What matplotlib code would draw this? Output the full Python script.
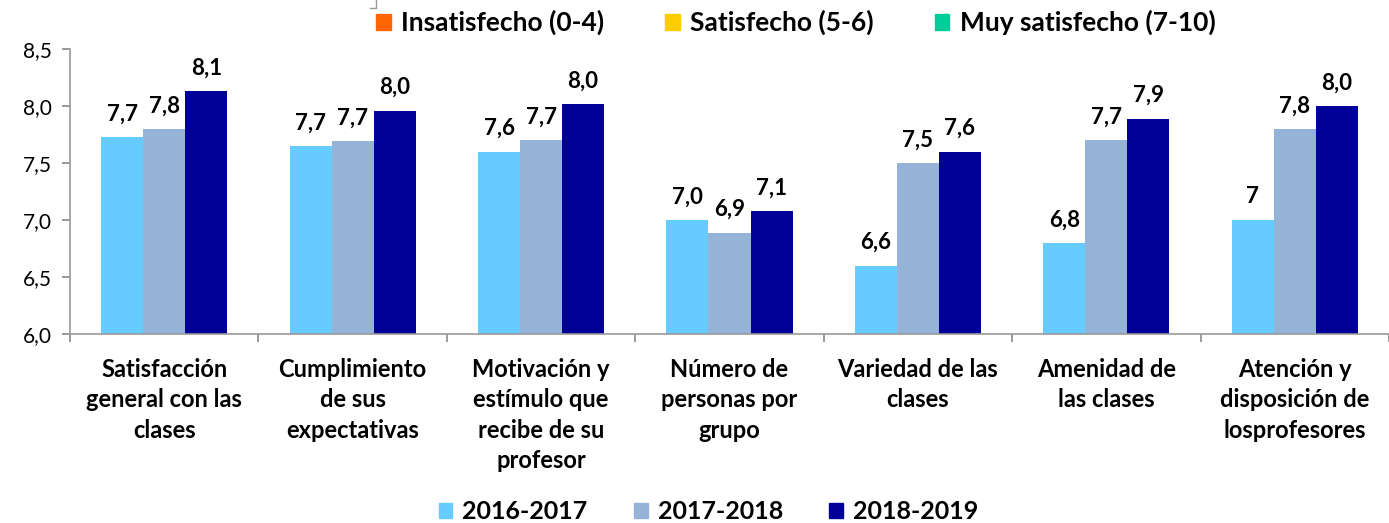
import matplotlib.pyplot as plt
import numpy as np
from matplotlib.patches import Patch
from matplotlib.lines import Line2D

plt.rcParams['font.family'] = ['Lato', 'DejaVu Sans']

categories = ["Satisfacción\ngeneral con las\nclases", "Cumplimiento\nde sus\nexpectativas",
              "Motivación y\nestímulo que\nrecibe de su\nprofesor", "Número de\npersonas por\ngrupo",
              "Variedad de las\nclases", "Amenidad de\nlas clases",
              "Atención y\ndisposición de\nlosprofesores"]
years = ["2016-2017", "2017-2018", "2018-2019"]
v2016 = [7.73, 7.65, 7.60, 7.00, 6.60, 6.80, 7.00]
v2017 = [7.80, 7.69, 7.70, 6.89, 7.50, 7.70, 7.80]
v2018 = [8.13, 7.96, 8.02, 7.08, 7.60, 7.89, 8.00]
lab2016 = ["7,7", "7,7", "7,6", "7,0", "6,6", "6,8", "7"]
lab2017 = ["7,8", "7,7", "7,7", "6,9", "7,5", "7,7", "7,8"]
lab2018 = ["8,1", "8,0", "8,0", "7,1", "7,6", "7,9", "8,0"]
colors = ["#66CCFF", "#95B3D7", "#000099"]

top_names = ["Insatisfecho (0-4)", "Satisfecho (5-6)", "Muy satisfecho (7-10)"]
top_colors = ["#FF6600", "#FFCC00", "#00CC99"]

fig = plt.figure(figsize=(13.89, 5.23), dpi=100)
ax = fig.add_axes([0.0504, 0.3614, 0.9496, 0.5449])

x = np.arange(len(categories))
w = 0.223
for i, (vals, labs) in enumerate([(v2016, lab2016), (v2017, lab2017), (v2018, lab2018)]):
    bars = ax.bar(x + (i - 1) * w, np.array(vals) - 6.0, w, bottom=6.0, color=colors[i],
                  label=years[i])
    for b, t in zip(bars, labs):
        ax.annotate(t, (b.get_x() + b.get_width() / 2, b.get_y() + b.get_height()),
                    xytext=(0, 9), textcoords="offset points", ha="center", va="bottom",
                    fontsize=16, fontweight="bold")

ax.set_ylim(6.0, 8.5)
ax.set_xlim(-0.5, len(categories) - 0.5)
yt = np.arange(6.0, 8.51, 0.5)
ax.set_yticks(yt)
ax.set_yticklabels([f"{v:.1f}".replace(".", ",") for v in yt], fontsize=15)
ax.set_xticks(x)
ax.set_xticklabels(categories, fontsize=17, fontweight="bold", linespacing=1.4, va="top")
ax.tick_params(axis="x", length=0, pad=17)
ax.set_xticks(np.arange(-0.5, len(categories)), minor=True)
ax.tick_params(axis="x", which="minor", length=6, color="#888888", width=1.2)
ax.tick_params(axis="y", length=6, color="#888888", width=1.2, pad=7)
for s in ["top", "right"]:
    ax.spines[s].set_visible(False)
for s in ["left", "bottom"]:
    ax.spines[s].set_color("#999999")
    ax.spines[s].set_linewidth(1.2)

handles = [Patch(color=c) for c in top_colors]
fig.legend(handles, top_names, loc="center", bbox_to_anchor=(0.573, 0.957), ncol=3,
           frameon=False, prop={"weight": "bold", "size": 19},
           handlelength=0.55, handleheight=0.55, handletextpad=0.4, columnspacing=2.3)

handles2 = [Patch(color=c) for c in colors]
fig.legend(handles2, years, loc="center", bbox_to_anchor=(0.51, 0.022), ncol=3,
           frameon=False, prop={"weight": "bold", "size": 18}, handlelength=0.55,
           handleheight=0.55, handletextpad=0.4, columnspacing=1.85)

# small bracket mark at the top
fig.add_artist(Line2D([376 / 1389, 376 / 1389, 370 / 1389], [1.0, 0.985, 0.985],
                      transform=fig.transFigure, color="#999999", lw=1))

fig.savefig("out.png", dpi=100)
